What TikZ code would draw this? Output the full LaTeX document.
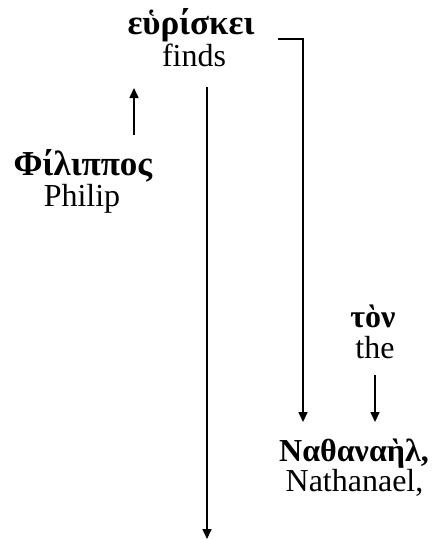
\documentclass[tikz,border=0pt]{standalone}
\usepackage{fontspec}
\setmainfont{Liberation Serif}
\newfontfamily\grk{Liberation Serif}
\usetikzlibrary{arrows.meta}
\begin{document}
\begin{tikzpicture}[x=1pt,y=-1pt,
  eng/.style={anchor=base,inner sep=0pt,font=\fontsize{32}{38}\selectfont},
  gr/.style={anchor=base,inner sep=0pt,font=\grk\bfseries\fontsize{32}{38}\selectfont},
  grbig/.style={anchor=base,inner sep=0pt,font=\grk\bfseries\fontsize{35}{40}\selectfont},
  arr/.style={line width=1.6pt,-{Triangle[length=10pt,width=9pt]}}]
\useasboundingbox (0,0) rectangle (434,539);
\node[grbig] (g1) at (191,34) {εὑρίσκει};
\node[eng] (e1) at (194,66) {finds};
\node[grbig] (g2) at (83,175) {Φίλιππος};
\node[eng] (e2) at (82,206) {Philip};
\node[gr] (g3) at (373,327) {τὸν};
\node[eng] (e3) at (375,358) {the};
\node[gr] (g4) at (354,461) {Ναθαναὴλ,};
\node[eng] (e4) at (354.5,491) {Nathanael,};
\coordinate (upS) at (134,135);
\coordinate (upE) at (134,88);
\coordinate (fS) at (207,87);
\coordinate (fE) at (207,539);
\coordinate (bS) at (278,39);
\coordinate (bE) at (303,422);
\coordinate (tS) at (375,375);
\coordinate (tE) at (375,422);
\draw[arr] (upS) -- (upE);
\draw[arr] (fS) -- (fE);
\draw[arr] (bS) -| (bE);
\draw[arr] (tS) -- (tE);
\end{tikzpicture}
\end{document}
